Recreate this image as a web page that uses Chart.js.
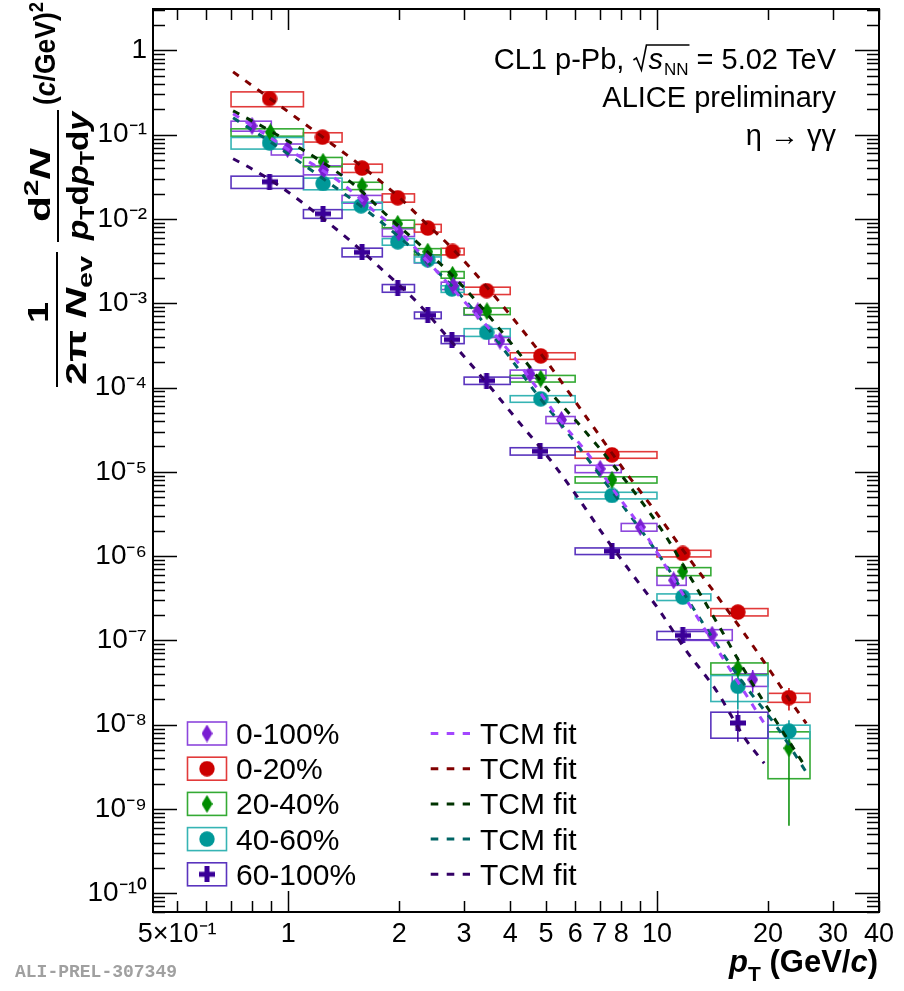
<!DOCTYPE html>
<html><head><meta charset="utf-8">
<script src="https://cdn.jsdelivr.net/npm/chart.js@4.4.1/dist/chart.umd.min.js"></script>
<style>html,body{margin:0;padding:0;background:#fff;overflow:hidden}canvas{display:block}</style>
</head><body>
<canvas id="c" width="904" height="991"></canvas>
<script>
// ---------------- data ----------------
const labels = ['0-100%','0-20%','20-40%','40-60%','60-100%'];
const xTickValues = [0.5,1,2,3,4,5,6,7,8,10,20,30,40];
const yTickValues = [1,1e-1,1e-2,1e-3,1e-4,1e-5,1e-6,1e-7,1e-8,1e-9,1e-10];

// 0-100%
const binsMB = [0.7,0.9,1.1,1.4,1.8,2.2,2.6,3.0,3.5,4.0,5.0,6.0,8.0,10,12,16,20];
const ptMB   = [0.798,0.996,1.247,1.602,1.994,2.391,2.803,3.268,3.752,4.525,5.508,7.015,9.01,11.10,14.11,18.18];
const yMB    = [0.1274,0.0675,0.0380,0.01723,0.00692,0.00338,0.001617,8.02e-4,3.60e-4,1.453e-4,4.14e-5,1.087e-5,2.21e-6,5.16e-7,1.171e-7,3.43e-8];
const sysMB  = [0.136,0.149,0.122,0.105,0.105,0.11,0.1,0.1,0.09,0.11,0.095,0.1,0.105,0.127,0.145,0.17];
const statMB = [0.01,0.01,0.01,0.01,0.01,0.01,0.01,0.01,0.01,0.02,0.02,0.03,0.04,0.05,0.1,0.3];

// 0-20%
const binsC1 = [0.7,1.1,1.4,1.8,2.2,2.6,3.0,4.0,6.0,10,14,20,26];
const ptC1   = [0.890,1.239,1.586,1.982,2.391,2.791,3.452,4.84,7.55,11.75,16.57,22.8];
const yC1    = [0.2684,0.0936,0.0402,0.01785,0.00781,0.00412,0.001411,2.374e-4,1.592e-5,1.076e-6,2.17e-7,2.10e-8];
const sysC1  = [0.2,0.126,0.113,0.113,0.105,0.09,0.1,0.09,0.09,0.09,0.1,0.122];
const statC1 = [0.01,0.01,0.01,0.01,0.01,0.01,0.01,0.02,0.03,0.05,0.12,0.3];

// 20-40%
const binsC2 = [0.7,1.1,1.4,1.8,2.2,2.6,3.0,4.0,6.0,10,14,20,26];
const ptC2   = [0.895,1.243,1.586,1.982,2.391,2.79,3.46,4.84,7.55,11.75,16.57,22.8];
const yC2    = [0.1067,0.0477,0.0248,0.00878,0.0041,0.00218,8.06e-4,1.278e-4,8.05e-6,6.59e-7,4.67e-8,5.26e-9];
const sysC2  = [0.1,0.126,0.1,0.103,0.085,0.09,0.09,0.09,0.085,0.109,0.158,0.565];
const statC2 = [0.01,0.01,0.01,0.01,0.01,0.01,0.01,0.02,0.03,0.06,0.35,0.88];

// 40-60%
const binsC3 = [0.7,1.1,1.4,1.8,2.2,2.6,3.0,4.0,6.0,10,14,20,26];
const ptC3   = [0.890,1.243,1.576,1.982,2.391,2.78,3.452,4.84,7.55,11.75,16.57,22.8];
const yC3    = [0.0801,0.02637,0.01435,0.00537,0.00329,0.00148,4.52e-4,7.35e-5,5.25e-6,3.27e-7,2.86e-8,8.37e-9];
const sysC3  = [0.157,0.158,0.103,0.09,0.078,0.09,0.105,0.09,0.09,0.09,0.341,0.18];
const statC3 = [0.01,0.01,0.01,0.01,0.01,0.01,0.01,0.02,0.03,0.08,0.47,0.35];

// 60-100%
const binsC4 = [0.7,1.1,1.4,1.8,2.2,2.6,3.0,4.0,6.0,10,14,20];
const ptC4   = [0.890,1.243,1.586,1.982,2.391,2.78,3.452,4.82,7.55,11.75,16.57];
const yC4    = [0.02763,0.01154,0.00403,0.00151,7.22e-4,3.71e-4,1.21e-4,1.757e-5,1.148e-6,1.148e-7,1.05e-8];
const sysC4  = [0.166,0.118,0.118,0.105,0.09,0.105,0.1,0.1,0.09,0.113,0.341];
const statC4 = [0.01,0.01,0.01,0.01,0.01,0.01,0.01,0.02,0.08,0.2,0.4];

// TCM fit curves
const fitMBx = [0.709,0.798,0.994,1.245,1.402,1.745,1.990,2.477,2.989,3.962,4.633,5.416,6.295,6.957,7.64,8.50,9.16,11.77,15.11,19.53];
const fitMBy = [0.1768,0.1274,0.0680,0.0373,0.02617,0.01154,0.00725,0.002642,0.001074,2.74e-4,1.114e-4,4.29e-5,1.94e-5,1.094e-5,6.01e-6,3.21e-6,2.02e-6,3.52e-7,6.12e-8,1.04e-8];
const fitC1x = [0.709,0.888,1.237,1.589,1.978,2.386,2.790,3.452,4.84,6.535,8.238,9.63,12.22,14.65,17.24,20.4,23.13,25.4];
const fitC1y = [0.556,0.2735,0.0944,0.0416,0.01886,0.00855,0.00444,0.001574,2.53e-4,4.06e-5,9.82e-6,3.99e-6,9.39e-7,3.24e-7,1.214e-7,4.19e-8,1.847e-8,1.04e-8];
const fitC2x = [0.709,0.894,1.222,1.521,1.858,2.386,2.808,3.263,4.011,5.088,6.295,8.136,10.45,12.37,14.74,17.45,21.05,25.4];
const fitC2y = [0.1918,0.1111,0.0490,0.02477,0.01092,0.00409,0.002067,0.001017,3.41e-4,9.21e-5,3.26e-5,8.34e-6,1.86e-6,5.44e-7,1.469e-7,4.07e-8,1.10e-8,3.05e-9];
const fitC3x = [0.709,0.894,1.245,1.702,2.173,3.027,4.011,4.691,5.588,7.593,10.45,13.17,16.92,21.45,25.4];
const fitC3y = [0.1585,0.0823,0.0300,0.01092,0.00444,0.001074,2.21e-4,8.72e-5,3.35e-5,5.69e-6,8.42e-7,1.73e-7,3.37e-8,8.61e-9,2.73e-9];
const fitC4x = [0.709,0.788,0.963,1.284,1.474,1.812,2.256,2.756,3.539,4.19,5.152,6.10,7.18,8.50,10.06,11.99,14.47,17.24,19.53];
const fitC4y = [0.0518,0.0405,0.02346,0.00902,0.00552,0.002435,9.89e-4,3.60e-4,1.0e-4,4.06e-5,1.363e-5,4.97e-6,1.76e-6,6.41e-7,2.40e-7,7.62e-8,2.56e-8,7.10e-9,3.49e-9];

// ---------------- styling ----------------
const FONT = '"Liberation Sans", Arial, Helvetica, sans-serif';
function makeDiamond(color,w,h){const c=document.createElement('canvas');c.width=w;c.height=h;const g=c.getContext('2d');g.fillStyle=color;g.beginPath();g.moveTo(w/2,0);g.lineTo(w,h/2);g.lineTo(w/2,h);g.lineTo(0,h/2);g.closePath();g.fill();return c;}
function makeCircle(color,d){const c=document.createElement('canvas');c.width=d;c.height=d;const g=c.getContext('2d');g.fillStyle=color;g.beginPath();g.arc(d/2,d/2,d/2-0.3,0,Math.PI*2);g.fill();return c;}
function makeCross(color,s,t){const c=document.createElement('canvas');c.width=s;c.height=s;const g=c.getContext('2d');g.fillStyle=color;g.fillRect((s-t)/2,0,t,s);g.fillRect(0,(s-t)/2,s,t);return c;}

const series = [
 {label:labels[0], bins:binsMB, x:ptMB, y:yMB, sys:sysMB, stat:statMB, marker:'#7A1ED2', box:'#8C46DC', fit:'#A346FF', fx:fitMBx, fy:fitMBy, img:makeDiamond('#7A1ED2',11,18)},
 {label:labels[1], bins:binsC1, x:ptC1, y:yC1, sys:sysC1, stat:statC1, marker:'#CC0000', box:'#E23A3A', fit:'#800000', fx:fitC1x, fy:fitC1y, img:makeCircle('#CC0000',16)},
 {label:labels[2], bins:binsC2, x:ptC2, y:yC2, sys:sysC2, stat:statC2, marker:'#008C00', box:'#34AA34', fit:'#003300', fx:fitC2x, fy:fitC2y, img:makeDiamond('#008C00',11,18)},
 {label:labels[3], bins:binsC3, x:ptC3, y:yC3, sys:sysC3, stat:statC3, marker:'#009898', box:'#36B4B4', fit:'#006464', fx:fitC3x, fy:fitC3y, img:makeCircle('#009898',16)},
 {label:labels[4], bins:binsC4, x:ptC4, y:yC4, sys:sysC4, stat:statC4, marker:'#3A0098', box:'#5A34BE', fit:'#330066', fx:fitC4x, fy:fitC4y, img:makeCross('#3A0098',16,5)}
];

const datasets = [];
series.forEach(s=>datasets.push({type:'line',label:'TCM fit',data:s.fx.map((x,i)=>({x:x,y:s.fy[i]})),borderColor:s.fit,borderWidth:3,borderDash:[7,8],pointRadius:0,fill:false,cubicInterpolationMode:'monotone'}));
series.forEach(s=>datasets.push({type:'scatter',label:s.label,data:s.x.map((x,i)=>({x:x,y:s.y[i]})),pointStyle:s.img,pointRadius:8,pointHoverRadius:8,showLine:false}));

const SUP={'-':'\u207B','0':'\u2070','1':'\u00B9','2':'\u00B2','3':'\u00B3','4':'\u2074','5':'\u2075','6':'\u2076','7':'\u2077','8':'\u2078','9':'\u2079'};
const sup = s => s.split('').map(ch=>SUP[ch]).join('');
function fmtX(v){ if (Math.abs(v-0.5)<1e-9) return '5\u00D710'+sup('-1'); return String(v); }
function fmtY(v){ const k=Math.round(Math.log10(v)); return k===0?'1':'10'+sup(String(k)); }

// ---------------- plugins ----------------
const boxesPlugin = {
 id:'sysBoxes',
 beforeDatasetsDraw(chart){
  const {ctx, chartArea:a, scales:{x:xs,y:ys}} = chart;
  ctx.save(); ctx.beginPath(); ctx.rect(a.left,a.top,a.right-a.left,a.bottom-a.top); ctx.clip();
  series.forEach(s=>{
   ctx.strokeStyle=s.box; ctx.lineWidth=1.6;
   s.y.forEach((v,i)=>{
    const x1=xs.getPixelForValue(s.bins[i]), x2=xs.getPixelForValue(s.bins[i+1]);
    const y1=ys.getPixelForValue(v*(1+s.sys[i])), y2=ys.getPixelForValue(v*(1-s.sys[i]));
    ctx.strokeRect(x1,y1,x2-x1,y2-y1);
   });
   ctx.strokeStyle=s.marker; ctx.lineWidth=1.5;
   s.y.forEach((v,i)=>{
    const px=xs.getPixelForValue(s.x[i]);
    ctx.beginPath(); ctx.moveTo(px,ys.getPixelForValue(v*(1+s.stat[i]))); ctx.lineTo(px,ys.getPixelForValue(v*(1-s.stat[i]))); ctx.stroke();
   });
  });
  ctx.restore();
 }
};

const axesPlugin = {
 id:'rootAxes',
 beforeDraw(chart){const c=chart.ctx; c.save(); c.fillStyle='#fff'; c.fillRect(0,0,chart.width,chart.height); c.restore();},
 afterDraw(chart){
  const {ctx, chartArea:a, scales:{x:xs,y:ys}} = chart;
  ctx.save();
  ctx.strokeStyle='#000'; ctx.lineWidth=1.5;
  ctx.beginPath();
  const xmin=xs.min, xmax=xs.max;
  for(let k=-1;k<=1;k++){
   for(let m=1;m<=9;m++){
    const v=m*Math.pow(10,k); if(v<xmin||v>xmax+1e-9) continue;
    const px=Math.round(xs.getPixelForValue(v))+0.5; const L=(m===1)?21:11;
    ctx.moveTo(px,a.bottom); ctx.lineTo(px,a.bottom-L);
    ctx.moveTo(px,a.top); ctx.lineTo(px,a.top+L);
   }
  }
  const ymin=ys.min, ymax=ys.max;
  for(let k=-11;k<=0;k++){
   for(let m=1;m<=9;m++){
    const v=m*Math.pow(10,k); if(v<ymin||v>ymax) continue;
    const py=Math.round(ys.getPixelForValue(v))+0.5; const L=(m===1)?24:12;
    ctx.moveTo(a.left,py); ctx.lineTo(a.left+L,py);
    ctx.moveTo(a.right,py); ctx.lineTo(a.right-L,py);
   }
  }
  ctx.stroke();
  ctx.lineWidth=2; ctx.strokeRect(a.left,a.top,a.right-a.left,a.bottom-a.top);

  drawTopText(ctx); drawLegend(ctx); drawXTitle(ctx, a); drawYTitle(ctx);
  ctx.fillStyle='#a0a0a0'; ctx.font='bold 18px "Liberation Mono", "DejaVu Sans Mono", monospace'; ctx.textAlign='left'; ctx.textBaseline='alphabetic';
  ctx.fillText('ALI-PREL-307349', 15, 977);
  ctx.restore();
 }
};

function drawTopText(ctx){
 const F='29px '+FONT, FI='italic 29px '+FONT, FS='17px '+FONT;
 const right=836, b1=69;
 ctx.fillStyle='#000'; ctx.strokeStyle='#000'; ctx.textBaseline='alphabetic'; ctx.textAlign='left';
 const W=(t,f)=>{ctx.font=f; return ctx.measureText(t).width;};
 const wPre=W('CL1 p-Pb, ',F), wS=W('s',FI), wNN=W('NN',FS), wEq=W(' = 5.02 TeV',F), radW=16;
 let x=right-(wPre+radW+wS+1+wNN+wEq);
 ctx.font=F; ctx.fillText('CL1 p-Pb, ',x,b1); x+=wPre;
 ctx.lineWidth=1.6; ctx.beginPath();
 ctx.moveTo(x+1,b1-9); ctx.lineTo(x+4,b1-11); ctx.lineTo(x+9,b1+1); ctx.lineTo(x+14,b1-24); ctx.lineTo(x+radW+wS+1+wNN+1,b1-24); ctx.stroke();
 x+=radW; ctx.font=FI; ctx.fillText('s',x,b1); x+=wS+1;
 ctx.font=FS; ctx.fillText('NN',x,b1+6); x+=wNN;
 ctx.font=F; ctx.fillText(' = 5.02 TeV',x,b1);
 ctx.textAlign='right';
 ctx.fillText('ALICE preliminary',right,107);
 ctx.fillText('\u03B7 \u2192 \u03B3\u03B3',right,145);
 ctx.textAlign='left';
}

function drawLegend(ctx){
 const y0=733.5, dy=35.2;
 ctx.textBaseline='alphabetic'; ctx.textAlign='left';
 series.forEach((s,i)=>{
  const y=y0+i*dy;
  ctx.strokeStyle=s.box; ctx.lineWidth=1.6; ctx.setLineDash([]);
  ctx.strokeRect(187.5,y-11.5,39,23);
  ctx.drawImage(s.img,207-s.img.width/2,y-s.img.height/2);
  ctx.fillStyle='#000'; ctx.font='30px '+FONT; ctx.fillText(s.label,236,y+10.5);
  ctx.strokeStyle=s.fit; ctx.lineWidth=3; ctx.setLineDash([7.6,8.4]);
  ctx.beginPath(); ctx.moveTo(430.7,y); ctx.lineTo(470,y); ctx.stroke(); ctx.setLineDash([]);
  ctx.fillText('TCM fit',480,y+10.5);
 });
}

function runH(ctx, parts, xStart, base){
 let x=xStart;
 parts.forEach(p=>{ctx.font=p[1]; ctx.fillText(p[0],x,base+p[2]); x+=ctx.measureText(p[0]).width;});
 return x;
}
function widthOf(ctx, parts){let w=0; parts.forEach(p=>{ctx.font=p[1]; w+=ctx.measureText(p[0]).width;}); return w;}

function drawXTitle(ctx, a){
 const B='bold 31px '+FONT, BI='italic bold 31px '+FONT, BS='bold 21px '+FONT;
 const parts=[['p',BI,0],['T',BS,9],[' (GeV/',B,0],['c',BI,0],[')',B,0]];
 ctx.fillStyle='#000'; ctx.textAlign='left'; ctx.textBaseline='alphabetic';
 const w=widthOf(ctx,parts);
 runH(ctx,parts,878-w,972);
}

function drawYTitle(ctx){
 ctx.save();
 ctx.rotate(-Math.PI/2); // fillText(t,u,v) -> screen (v,-u)
 ctx.fillStyle='#000'; ctx.strokeStyle='#000'; ctx.textAlign='left'; ctx.textBaseline='alphabetic';
 const B='bold 29px '+FONT, BI='italic bold 29px '+FONT, BS='bold 20px '+FONT, BSI='italic bold 20px '+FONT;
 // draw run spanning screen-y from yBottom up to yTop (stretched along text direction), baseline at screen-x bx
 const runSpan=(parts,yBottom,yTop,bx)=>{
  const w=widthOf(ctx,parts), f=(yBottom-yTop)/w;
  ctx.save(); ctx.translate(-yBottom,0); ctx.scale(f,1); runH(ctx,parts,0,bx); ctx.restore();
 };
 runSpan([['1',B,0]],323,302,48);
 runSpan([['2\u03C0 ',B,0],['N',BI,0],['ev',BS,6]],385,256,86);
 ctx.lineWidth=2; ctx.beginPath(); ctx.moveTo(-387,57); ctx.lineTo(-252,57); ctx.stroke();
 runSpan([['d',B,0],['2',BS,-12],['N',BI,0]],222,149,50);
 runSpan([['p',BI,0],['T',BS,6],['d',B,0],['p',BI,0],['T',BS,6],['d',B,0],['y',BI,0]],240,112,88);
 ctx.beginPath(); ctx.moveTo(-242,58); ctx.lineTo(-110,58); ctx.stroke();
 runSpan([['(',B,0],['c',BI,0],['/GeV)',B,0],['2',BS,-12]],105,2,55);
 ctx.restore();
}

// ---------------- chart ----------------
new Chart(document.getElementById('c'), {
 data:{datasets:datasets},
 options:{
  responsive:false, animation:false, events:[],
  layout:{padding:{left:0,right:25,top:8,bottom:0}},
  plugins:{legend:{display:false}, tooltip:{enabled:false}},
  scales:{
   x:{type:'logarithmic', min:0.43, max:40,
      afterBuildTicks:sc=>{sc.ticks=xTickValues.map(v=>({value:v}));},
      afterFit:sc=>{sc.height=79; sc.paddingLeft=0; sc.paddingRight=0;},
      grid:{display:false, drawTicks:false}, border:{display:false},
      ticks:{autoSkip:false, maxRotation:0, minRotation:0, padding:6, color:'#000', font:{family:FONT,size:27}, callback:v=>fmtX(v)}},
   y:{type:'logarithmic', min:6e-11, max:3.1,
      afterBuildTicks:sc=>{sc.ticks=yTickValues.map(v=>({value:v}));},
      afterFit:sc=>{sc.width=153; sc.paddingTop=0; sc.paddingBottom=0;},
      grid:{display:false, drawTicks:false}, border:{display:false},
      ticks:{autoSkip:false, padding:6, color:'#000', font:{family:FONT,size:28}, callback:v=>fmtY(v)}}
  }
 },
 plugins:[boxesPlugin, axesPlugin]
});
</script>
</body></html>
